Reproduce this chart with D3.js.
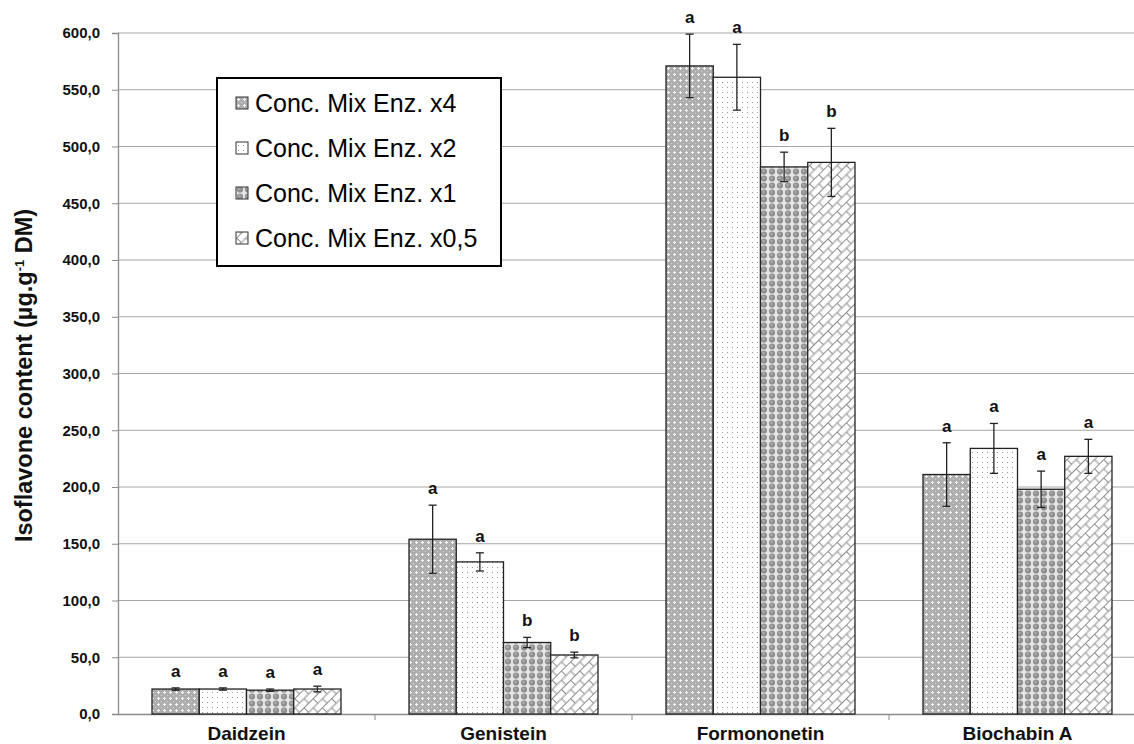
<!DOCTYPE html>
<html>
<head>
<meta charset="utf-8">
<script src="https://cdn.jsdelivr.net/npm/d3@7/dist/d3.min.js"></script>
<style>
  body { margin: 0; background: #fff; }
  svg { display: block; font-family: Arial, "Liberation Sans", sans-serif; }
</style>
</head>
<body>
<svg id="chart" width="1134" height="744"></svg>
<script>
// data
var compounds = ["Daidzein", "Genistein", "Formononetin", "Biochabin A"];
var seriesNames = ["Conc. Mix Enz. x4", "Conc. Mix Enz. x2", "Conc. Mix Enz. x1", "Conc. Mix Enz. x0,5"];
var x4Values = [22, 154, 571, 211];
var x2Values = [22, 134, 561, 234];
var x1Values = [21, 63, 482, 198];
var x05Values = [22, 52, 486, 227];
var x4Errors = [1, 30, 28, 28];
var x2Errors = [1, 8, 29, 22];
var x1Errors = [1, 4.5, 13, 16];
var x05Errors = [2.5, 2.5, 30, 15];
var x4Letters = ["a", "a", "a", "a"];
var x2Letters = ["a", "a", "a", "a"];
var x1Letters = ["a", "b", "b", "a"];
var x05Letters = ["a", "b", "b", "a"];
var yTicks = [0, 50, 100, 150, 200, 250, 300, 350, 400, 450, 500, 550, 600];

var allValues = [x4Values, x2Values, x1Values, x05Values];
var allErrors = [x4Errors, x2Errors, x1Errors, x05Errors];
var allLetters = [x4Letters, x2Letters, x1Letters, x05Letters];
var patternIds = ["pX4", "pX2", "pX1", "pX05"];

var svg = d3.select("#chart"),
    margin = { top: 33, left: 118, bottom: 30 },
    height = 744 - margin.top - margin.bottom;

var defs = svg.append("defs");

// x4 : grey with white crosses
var p = defs.append("pattern").attr("id", "pX4").attr("patternUnits", "userSpaceOnUse")
    .attr("width", 6).attr("height", 6);
p.append("rect").attr("width", 6).attr("height", 6).attr("fill", "#aeaeae");
p.append("rect").attr("x", 2).attr("y", 1).attr("width", 1).attr("height", 3).attr("fill", "#f4f4f4");
p.append("rect").attr("x", 1).attr("y", 2).attr("width", 3).attr("height", 1).attr("fill", "#f4f4f4");
p.append("rect").attr("x", 5).attr("y", 5).attr("width", 1).attr("height", 1).attr("fill", "#d0d0d0");

// x2 : white with grey dots
p = defs.append("pattern").attr("id", "pX2").attr("patternUnits", "userSpaceOnUse")
    .attr("width", 5).attr("height", 5);
p.append("rect").attr("width", 5).attr("height", 5).attr("fill", "#fff");
p.append("rect").attr("x", 2).attr("y", 2).attr("width", 1).attr("height", 1).attr("fill", "#9a9a9a");

// x1 : grey circles on light ground
p = defs.append("pattern").attr("id", "pX1").attr("patternUnits", "userSpaceOnUse")
    .attr("width", 8).attr("height", 7);
p.append("rect").attr("width", 8).attr("height", 7).attr("fill", "#e6e6e6");
p.append("circle").attr("cx", 4).attr("cy", 3.5).attr("r", 3.1).attr("fill", "#8e8e8e");
p.append("circle").attr("cx", 3.4).attr("cy", 2.9).attr("r", 1.3).attr("fill", "#ababab");

// x0,5 : white with diagonal bricks (brick wall rotated -45deg)
p = defs.append("pattern").attr("id", "pX05").attr("patternUnits", "userSpaceOnUse")
    .attr("width", 13).attr("height", 13).attr("patternTransform", "rotate(-45)");
p.append("rect").attr("width", 13).attr("height", 13).attr("fill", "#fff");
p.append("path").attr("d", "M0,0.5 H13 M0,7 H13 M0.5,0.5 V7 M7,7 V13.5")
    .attr("stroke", "#8c8c8c").attr("stroke-width", 1).attr("fill", "none");

var x0 = d3.scaleBand().domain(compounds).range([margin.left, margin.left + 4 * 257]).paddingInner(0).paddingOuter(0);
var x1 = d3.scaleBand().domain(d3.range(4)).range([0, x0.bandwidth()]).paddingOuter(0.72).paddingInner(0);
var y = d3.scaleLinear().domain([0, 600]).range([margin.top + height, margin.top]);

// gridlines
svg.append("g").selectAll("line").data(yTicks.slice(1)).enter().append("line")
    .attr("x1", margin.left).attr("x2", 1134)
    .attr("y1", function (d) { return y(d); }).attr("y2", function (d) { return y(d); })
    .attr("stroke", "#a6a6a6").attr("stroke-width", 1.2);

// y axis
var yAxis = svg.append("g").attr("transform", "translate(" + margin.left + ",0)")
    .call(d3.axisLeft(y).tickValues(yTicks).tickSize(6).tickPadding(12)
        .tickFormat(function (d) { return d3.format(".1f")(d).replace(".", ","); }));
yAxis.select(".domain").attr("stroke", "#8c8c8c").attr("stroke-width", 1.3);
yAxis.selectAll(".tick line").attr("stroke", "#8c8c8c");
yAxis.selectAll("text").attr("font-size", 15).attr("font-weight", "bold").attr("fill", "#111")
    .attr("font-family", "Arial, 'Liberation Sans', sans-serif");

// x axis
var xAxis = svg.append("g").attr("transform", "translate(0," + y(0) + ")")
    .call(d3.axisBottom(x0).tickSize(0).tickPadding(13));
xAxis.select(".domain").attr("stroke", "#8c8c8c").attr("stroke-width", 1.3);
xAxis.selectAll("text").attr("font-size", 19).attr("font-weight", "bold").attr("fill", "#111")
    .attr("font-family", "Arial, 'Liberation Sans', sans-serif");
svg.append("g").selectAll("line").data(compounds.slice(1)).enter().append("line")
    .attr("x1", function (d) { return x0(d); }).attr("x2", function (d) { return x0(d); })
    .attr("y1", y(0)).attr("y2", y(0) + 6).attr("stroke", "#8c8c8c");

// bars
var barData = [];
compounds.forEach(function (c, ci) {
    for (var s = 0; s < 4; s++) {
        barData.push({ c: c, s: s, v: allValues[s][ci], e: allErrors[s][ci], l: allLetters[s][ci] });
    }
});

var g = svg.append("g");
g.selectAll("rect").data(barData).enter().append("rect")
    .attr("x", function (d) { return x0(d.c) + x1(d.s); })
    .attr("width", x1.bandwidth())
    .attr("y", function (d) { return y(d.v); })
    .attr("height", function (d) { return y(0) - y(d.v); })
    .attr("fill", function (d) { return "url(#" + patternIds[d.s] + ")"; })
    .attr("stroke", "#222").attr("stroke-width", 1.3);

// error bars
var eb = g.selectAll(".err").data(barData).enter().append("g").attr("class", "err")
    .attr("stroke", "#222").attr("stroke-width", 1.3);
eb.append("line")
    .attr("x1", function (d) { return x0(d.c) + x1(d.s) + x1.bandwidth() / 2; })
    .attr("x2", function (d) { return x0(d.c) + x1(d.s) + x1.bandwidth() / 2; })
    .attr("y1", function (d) { return y(d.v + d.e); })
    .attr("y2", function (d) { return y(d.v - d.e); });
[1, -1].forEach(function (sign) {
    eb.append("line")
        .attr("x1", function (d) { return x0(d.c) + x1(d.s) + x1.bandwidth() / 2 - 4; })
        .attr("x2", function (d) { return x0(d.c) + x1(d.s) + x1.bandwidth() / 2 + 4; })
        .attr("y1", function (d) { return y(d.v + sign * d.e); })
        .attr("y2", function (d) { return y(d.v + sign * d.e); });
});

// letters
g.selectAll(".letter").data(barData).enter().append("text").attr("class", "letter")
    .attr("x", function (d) { return x0(d.c) + x1(d.s) + x1.bandwidth() / 2; })
    .attr("y", function (d) { return y(d.v + d.e) - 11; })
    .attr("text-anchor", "middle").attr("font-size", 17).attr("font-weight", "bold").attr("fill", "#111")
    .text(function (d) { return d.l; });

// y label
svg.append("text")
    .attr("transform", "translate(32," + (margin.top + height / 2 + 2) + ") rotate(-90)")
    .attr("text-anchor", "middle").attr("font-size", 23.5).attr("font-weight", "bold").attr("fill", "#111")
    .html('Isoflavone content (µg.g<tspan dy="-8" font-size="13">-1</tspan><tspan dy="8"> DM)</tspan>');

// legend
var legend = svg.append("g").attr("transform", "translate(217,78)");
legend.append("rect").attr("width", 284).attr("height", 188)
    .attr("fill", "#fff").attr("stroke", "#000").attr("stroke-width", 2);
var items = legend.selectAll(".item").data(seriesNames).enter().append("g")
    .attr("transform", function (d, i) { return "translate(19," + (25 + i * 45) + ")"; });
items.append("rect").attr("x", 0).attr("y", -6).attr("width", 12).attr("height", 12)
    .attr("fill", function (d, i) { return "url(#" + patternIds[i] + ")"; })
    .attr("stroke", "#333").attr("stroke-width", 1);
items.append("text").attr("x", 19).attr("y", 0).attr("dy", "0.36em")
    .attr("font-size", 25).attr("fill", "#000")
    .text(function (d) { return d; });
</script>
</body>
</html>
